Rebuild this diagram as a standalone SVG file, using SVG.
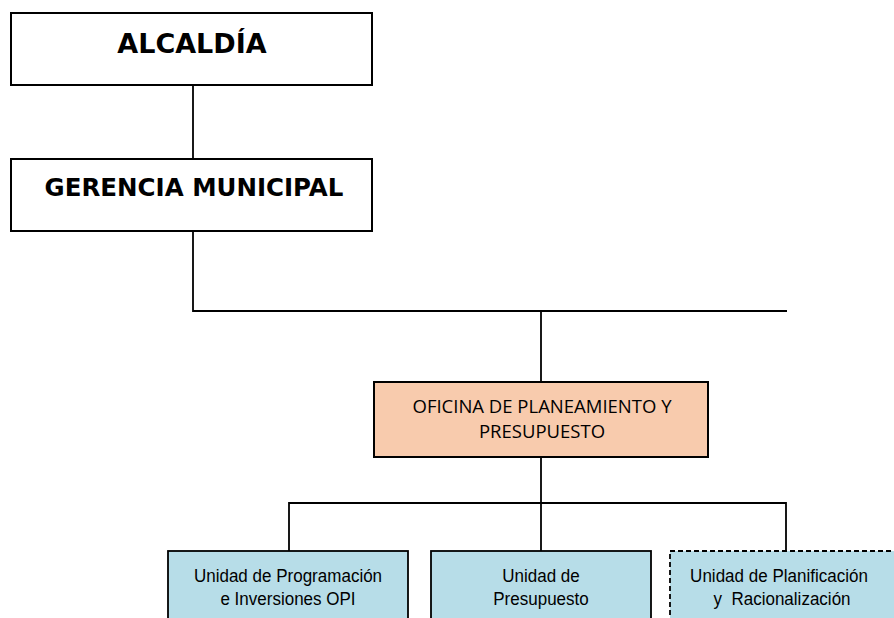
<svg xmlns="http://www.w3.org/2000/svg" width="894" height="618" viewBox="0 0 894 618">
<style>
.box{fill:#fff;stroke:#000;stroke-width:2}
.ofi{fill:#F8CBAD;stroke:#000;stroke-width:2}
.uni{fill:#B7DDE8;stroke:#000;stroke-width:1.8}
.dash{stroke-dasharray:5,3}
.ln{stroke:#000;stroke-width:1.8;fill:none}
.t1{font-family:"DejaVu Sans",Verdana,sans-serif;font-weight:bold;fill:#000;text-anchor:middle}
.t2{font-family:"Open Sans","Liberation Sans",sans-serif;font-size:18.5px;fill:#000;text-anchor:middle}
.t3{font-family:"Liberation Sans",Arial,sans-serif;font-size:18.5px;fill:#000;text-anchor:middle;white-space:pre}
</style>
<rect width="894" height="618" fill="#fff"/>
<g id="connectors">
<line class="ln" x1="193" y1="85" x2="193" y2="159"/>
<polyline class="ln" points="193,231 193,311 787,311"/>
<line class="ln" x1="541" y1="311" x2="541" y2="382"/>
<line class="ln" x1="541" y1="457" x2="541" y2="551"/>
<polyline class="ln" points="289,551 289,503 786,503 786,551"/>
</g>
<g id="alcaldia">
<rect class="box" x="11" y="13" width="361" height="72"/>
<text class="t1" x="192" y="53" font-size="27">ALCALDÍA</text>
</g>
<g id="gerencia">
<rect class="box" x="11" y="159" width="361" height="72"/>
<text class="t1" x="194" y="196" font-size="24.5">GERENCIA MUNICIPAL</text>
</g>
<g id="oficina">
<rect class="ofi" x="374" y="382" width="334" height="75"/>
<text class="t2" x="542" y="413">OFICINA DE PLANEAMIENTO Y</text>
<text class="t2" x="542" y="438">PRESUPUESTO</text>
</g>
<g id="unidad-opi">
<rect class="uni" x="168" y="551" width="240" height="80"/>
<text class="t3" transform="matrix(0.92 0 0 1 288 0)" x="0" y="582">Unidad de Programación</text>
<text class="t3" transform="matrix(0.92 0 0 1 288 0)" x="0" y="605">e Inversiones OPI</text>
</g>
<g id="unidad-presupuesto">
<rect class="uni" x="431" y="551" width="220" height="80"/>
<text class="t3" transform="matrix(0.92 0 0 1 541 0)" x="0" y="582">Unidad de</text>
<text class="t3" transform="matrix(0.92 0 0 1 541 0)" x="0" y="605">Presupuesto</text>
</g>
<g id="unidad-planificacion">
<rect class="uni dash" x="670" y="551" width="240" height="80"/>
<text class="t3" transform="matrix(0.92 0 0 1 779 0)" x="0" y="582">Unidad de Planificación</text>
<text class="t3" transform="matrix(0.92 0 0 1 782 0)" x="0" y="605">y  Racionalización</text>
</g>
</svg>
